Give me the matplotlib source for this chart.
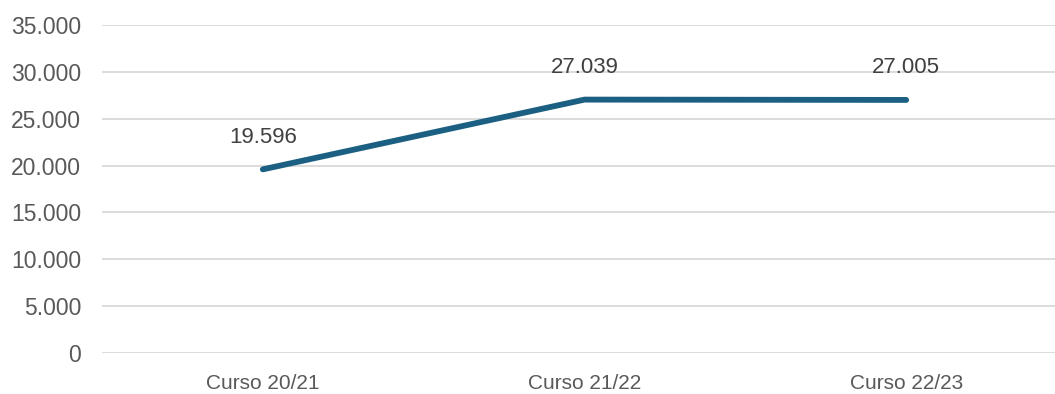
import matplotlib.pyplot as plt
from matplotlib.ticker import FuncFormatter

cursos = ["Curso 20/21", "Curso 21/22", "Curso 22/23"]
alumnos = [19596, 27039, 27005]
y_ticks = [0, 5000, 10000, 15000, 20000, 25000, 30000, 35000]

plt.rcParams['font.family'] = ['Liberation Sans', 'DejaVu Sans']

def miles(v, pos=None):
    return f"{int(v):,}".replace(",", ".")

W, H = 1055, 394
fig = plt.figure(figsize=(W / 100, H / 100), dpi=100)
# the category band runs past the right edge, like the original export
ax = fig.add_axes([102 / W, 1 - 353 / H, 965 / W, 328 / H])

x = list(range(len(cursos)))
ax.plot(x, alumnos, color="#1b6082", linewidth=4.2, solid_capstyle="round")
for xi, v in zip(x, alumnos):
    ax.annotate(miles(v), (xi, v), xytext=(0, 23), textcoords="offset points",
                ha="center", va="center", fontsize=16, color="#404040")

ax.set_xlim(-0.5, 2.5)
ax.set_ylim(0, 35000)
ax.set_yticks(y_ticks)
ax.yaxis.set_major_formatter(FuncFormatter(miles))
ax.set_xticks(x)
ax.set_xticklabels(cursos)
ax.grid(axis="y", color="#d9d9d9", linewidth=1.3)
ax.set_axisbelow(True)
for s in ax.spines.values():
    s.set_visible(False)
ax.tick_params(axis="both", length=0, labelcolor="#595959")
ax.tick_params(axis="y", pad=15, labelsize=16.5)
ax.tick_params(axis="x", pad=15, labelsize=15)

fig.savefig("out.png", dpi=100)
